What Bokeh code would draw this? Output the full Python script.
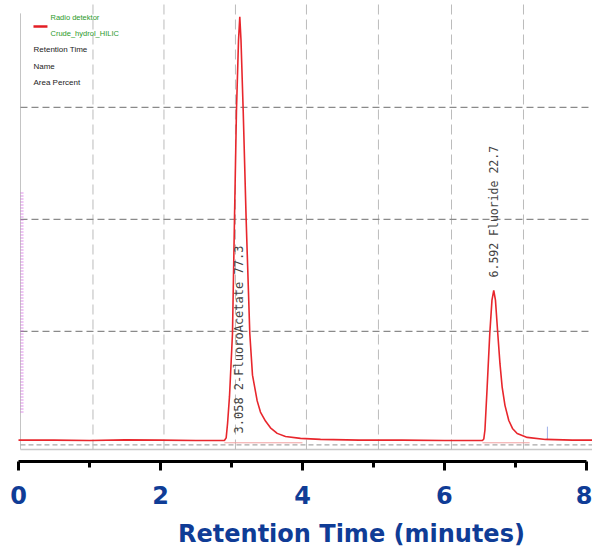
import math
from bokeh.plotting import figure
from bokeh.models import Range1d, LinearAxis, FixedTicker
from bokeh.core.properties import value
from bokeh.embed import file_html
from bokeh.resources import INLINE

# ---- data ----
rt_minutes = [0.0, 0.5, 1.0, 1.5, 2.0, 2.5, 2.90, 2.925, 2.945, 2.972, 3.014, 3.042,
              3.070, 3.099, 3.117, 3.134, 3.165, 3.207, 3.258, 3.296, 3.362, 3.408,
              3.479, 3.549, 3.644, 3.761, 3.972, 4.254, 4.8, 5.4, 6.0, 6.4, 6.535,
              6.554, 6.570, 6.601, 6.638, 6.669, 6.694, 6.718, 6.751, 6.782, 6.813,
              6.852, 6.906, 6.958, 7.024, 7.165, 7.423, 7.8, 8.085]
signal = [0.030, 0.030, 0.027, 0.032, 0.030, 0.027, 0.027, 0.05, 0.18, 0.42, 0.98, 1.99,
          2.97, 3.60, 3.81, 3.60, 2.97, 1.99, 0.98, 0.61, 0.38, 0.28,
          0.20, 0.14, 0.09, 0.062, 0.045, 0.036, 0.030, 0.030, 0.027, 0.027, 0.027,
          0.04, 0.12, 0.50, 0.98, 1.28, 1.366, 1.28, 0.98, 0.71, 0.50,
          0.34, 0.205, 0.134, 0.089, 0.054, 0.036, 0.030, 0.030]

peak_rt = ["3.058", "6.592"]
peak_name = ["2-FluoroAcetate", "Fluoride"]
peak_area = ["77.3", "22.7"]
peak_apex = [3.117, 6.694]
peak_label_base = [0.089, 1.482]
peak_start = [2.90, 6.535]
peak_end = [4.0, 7.2]

x_ticks = [0, 2, 4, 6, 8]
x_minor = [1, 3, 5, 7]
inner_vgrid = [1.049, 2.049, 3.056, 4.056, 5.070, 6.099, 7.113]
inner_hgrid = [1, 2, 3]

legend_lines = ["Retention Time", "Name", "Area Percent"]
detector = "Radio detektor"
run_name = "Crude_hydrol_HILIC"
axis_title = "Retention Time (minutes)"

X_START, X_END = -0.2535, 8.085
Y_BOT, Y_TOP = -0.929, 3.955
AXIS_Y = -0.161
TITLE_X, TITLE_Y = 4.69, -0.804
FRAME_LEFT_X = 0.028
FRAME_BOT_Y = -0.054
BLUE = "#0f3c96"

p = figure(width=592, height=547, x_range=Range1d(X_START, X_END), y_range=Range1d(Y_BOT, Y_TOP),
           output_backend="svg", toolbar_location=None, y_axis_location=None,
           x_axis_location=None,
           min_border_left=0, min_border_right=0, min_border_top=0, min_border_bottom=0)
p.outline_line_color = None
p.grid.visible = False
p.background_fill_color = "white"

# chromatogram frame
p.segment(x0=[FRAME_LEFT_X], y0=[FRAME_BOT_Y], x1=[FRAME_LEFT_X], y1=[3.84],
          line_color="#c4c4c4", line_width=1)
p.segment(x0=[FRAME_LEFT_X], y0=[FRAME_BOT_Y], x1=[X_END], y1=[FRAME_BOT_Y],
          line_color="#c8c8c8", line_width=1.5)
p.segment(x0=[FRAME_LEFT_X], y0=[-0.013], x1=[X_END], y1=[-0.013],
          line_color="#a8a8a8", line_width=1.2, line_dash="5 3")

# inner grid
p.segment(x0=inner_vgrid, y0=[FRAME_BOT_Y] * len(inner_vgrid), x1=inner_vgrid,
          y1=[Y_TOP] * len(inner_vgrid), line_color="#bcbcbc", line_width=1, line_dash="10 5")
p.segment(x0=[FRAME_LEFT_X] * len(inner_hgrid), y0=inner_hgrid, x1=[X_END] * len(inner_hgrid),
          y1=inner_hgrid, line_color="#8a8a8a", line_width=1.3, line_dash="7 4")

# magenta hidden axis ticks
p.segment(x0=[0.05], y0=[0.277], x1=[0.05], y1=[2.259], line_color="#cc44dd",
          line_width=3, line_alpha=0.6, line_dash="1 2")

# integration baselines
p.segment(x0=peak_start, y0=[0.006] * 2, x1=peak_end, y1=[0.006] * 2,
          line_color="#f2a0a0", line_width=1)
# small blue marker
p.segment(x0=[7.45], y0=[0.03], x1=[7.45], y1=[0.15], line_color="#9fb0e8", line_width=1)

# trace
p.line(rt_minutes, signal, line_color="#e8262c", line_width=1.6)

# peak annotations
labels = [f"{a}  {b}  {c}" for a, b, c in zip(peak_rt, peak_name, peak_area)]
p.text(x=peak_apex, y=peak_label_base, text=labels, angle=math.pi / 2,
       x_offset=[-1, 0], text_font=value("DejaVu Sans Mono"), text_font_size=["12px", "11.5px"],
       text_align="left", text_baseline="middle", text_color="#444444")

# legend block
p.segment(x0=[0.211], y0=[3.723], x1=[0.408], y1=[3.723], line_color="#e31e24", line_width=2.5)
p.text(x=[0.451, 0.451], y=[3.804, 3.661], text=[detector, run_name],
       text_font=value("Liberation Sans"), text_font_size="7.5px",
       text_align="left", text_baseline="middle", text_color="#2a9a2a")
p.text(x=[0.211] * 3, y=[3.518, 3.366, 3.223], text=legend_lines,
       text_font=value("Liberation Sans"), text_font_size="8px",
       text_align="left", text_baseline="middle", text_color="#222222")

# x axis (fixed at the position below the chromatogram)
ax = LinearAxis(fixed_location=AXIS_Y)
ax.ticker = FixedTicker(ticks=x_ticks, minor_ticks=x_minor)
ax.bounds = (0, 8)
ax.axis_line_width = 3
ax.axis_line_color = "black"
ax.major_tick_line_width = 3
ax.major_tick_out = 9
ax.major_tick_in = 0
ax.minor_tick_line_width = 3
ax.minor_tick_out = 6
ax.minor_tick_in = 0
ax.major_label_text_font = "DejaVu Sans"
ax.major_label_text_font_style = "bold"
ax.major_label_text_font_size = "24px"
ax.major_label_text_color = BLUE
ax.major_label_standoff = 16
p.add_layout(ax, "below")

# axis title (offset to the right, as in the reference)
p.text(x=[TITLE_X], y=[TITLE_Y], text=[axis_title], text_align="center",
       text_baseline="middle", text_font=value("DejaVu Sans"), text_font_style="bold",
       text_font_size="24px", text_color=BLUE)

open("out.html", "w").write(file_html(p, INLINE))
